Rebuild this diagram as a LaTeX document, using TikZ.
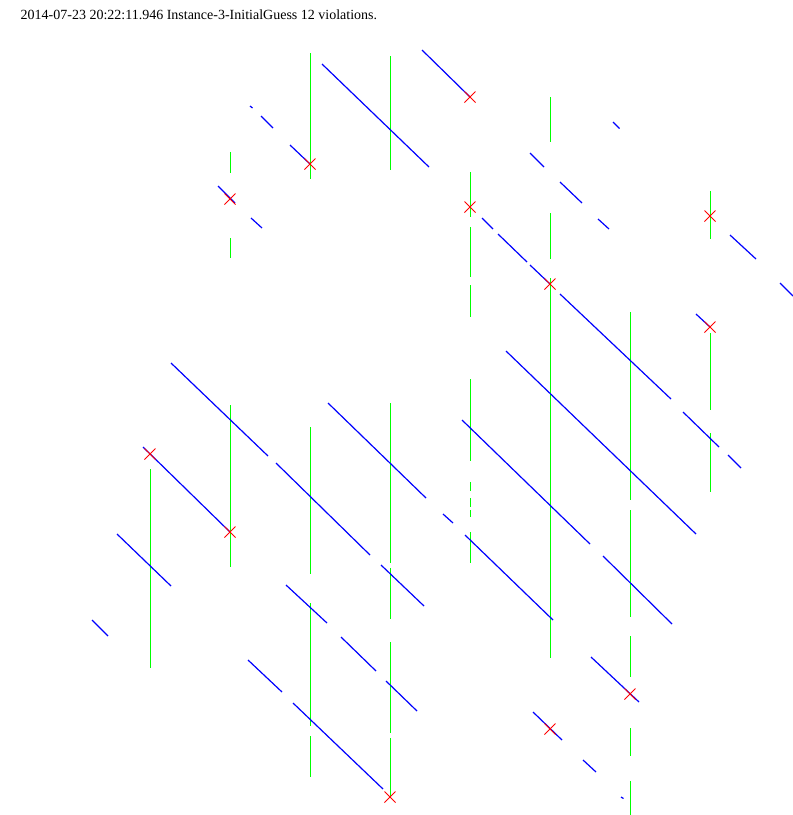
\documentclass[tikz,border=0pt]{standalone}
\usepackage{fontspec}
\setmainfont{Liberation Serif}
\definecolor{pgreen}{RGB}{0,255,0}
\definecolor{pblue}{RGB}{0,0,255}
\definecolor{pred}{RGB}{255,0,0}
\begin{document}
\begin{tikzpicture}[x=1pt,y=-1pt,
  gseg/.style={draw=pgreen,line width=1pt},
  bseg/.style={draw=pblue,line width=1.2pt},
  viol/.style={draw=pred,line width=0.9pt}]
\useasboundingbox[fill=white] (0,0) rectangle (793,815);
\node[anchor=base west,inner sep=0pt,font=\fontsize{14}{16}\selectfont] (title) at (20.5,19.5)
  {2014-07-23 20:22:11.946 Instance-3-InitialGuess 12 violations.};
% green vertical segments
\foreach \x/\a/\b in {310/53/179, 390/56/170, 230/152/173, 230/238/258,
  470/172/217, 470/227/277, 470/285/317, 470/379/461, 470/482/491,
  470/498/507, 470/510/517, 470/532/563, 550/97/142, 550/213/259,
  550/278/658, 710/191/239, 710/333/410, 710/433/492, 630/312/500,
  630/510/617, 630/636/677, 630/728/756, 630/781/815, 230/405/567,
  150/469/668, 390/403/563, 390/568/619, 390/642/733, 390/738/797,
  310/427/574, 310/603/726, 310/736/777}
  \draw[gseg] (\x+0.3,\a) -- (\x+0.3,\b);
% blue diagonal segments
\foreach \xa/\ya/\xb/\yb in {250/106/252.5/108, 261/116/273/128, 218/186/235/203,
  251/218/262/228, 322/64/429/167, 422/50/470/97, 290/145/310/164,
  482/218/493/229, 498/234/527/262, 613/122/619.5/128.5, 530/153/544/167,
  560/182/582/203, 598/219/609/229, 730/235/756/259, 530/265/550/284,
  560/294/671/399, 780/283/793/296, 696/314/710/327, 683/412/719/447,
  728/455/741/468, 506/351/696/534, 462/420/590/544, 465/535/553/620,
  443/514/453/523, 328/403/426/498, 276/463/370/555, 171/363/268/456,
  143/447/230/532, 117/534/171/586, 92/620/108/636, 248/660/282/692,
  381/565/424/606, 286/585/327/623, 341/637/376/671, 386/681/417/711,
  293/703/383/789, 603/556/672/624, 591/657/639/702, 533/712/562/740,
  583/760/596/772, 621/797/623.5/798.5}
  \draw[bseg] (\xa,\ya) -- (\xb,\yb);
% violation crosses
\foreach \cx/\cy in {470/97, 310/164, 230/199, 470/207, 710/216, 550/284,
  710/327, 150/454, 230/532, 630/694, 550/729, 390/797}
  \draw[viol] (\cx-5.5,\cy-5.5) -- (\cx+5.5,\cy+5.5)
              (\cx-5.5,\cy+5.5) -- (\cx+5.5,\cy-5.5);
\end{tikzpicture}
\end{document}
